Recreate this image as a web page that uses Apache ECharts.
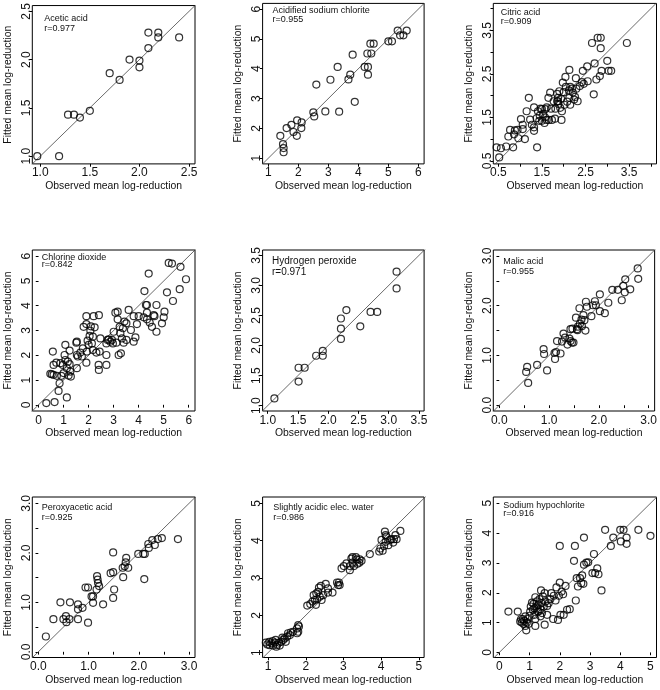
<!DOCTYPE html>
<html><head><meta charset="utf-8">
<script src="https://cdn.jsdelivr.net/npm/echarts@6/dist/echarts.min.js"></script>
<style>html,body{margin:0;padding:0;background:#fff}#c{width:660px;height:690px}</style>
</head><body><div id="c"></div>
<script>
// ---------- Data (observed vs fitted mean log-reduction) ----------
const aceticObs = [0.97,1.19,1.28,1.34,1.40,1.50,1.70,1.80,1.90,2.00,2.00,2.09,2.09,2.19,2.19,2.40];
const aceticFit = [1.00,1.00,1.43,1.43,1.40,1.47,1.86,1.79,2.00,1.99,1.92,2.12,2.28,2.28,2.23,2.23];
const aceticTicks = [1.0,1.5,2.0,2.5];
const aceticTickLabels = ['1.0','1.5','2.0','2.5'];

const chloriteObs = [1.40,1.49,1.51,1.51,1.61,1.77,1.84,1.96,1.95,2.11,2.10,2.50,2.53,2.60,2.90,3.07,3.31,3.36,3.67,3.73,3.81,3.88,4.21,4.32,4.32,4.30,4.43,4.40,4.51,5.00,5.12,5.31,5.39,5.50,5.61];
const chloriteFit = [1.75,1.47,1.34,1.20,2.01,2.12,1.88,2.27,1.75,2.20,2.01,2.54,2.40,3.47,2.57,3.63,4.06,2.56,3.64,3.80,4.47,2.89,4.06,4.06,3.80,4.51,4.51,4.84,4.84,4.92,4.92,5.28,5.12,5.12,5.28];
const chloriteTicks = [1,2,3,4,5,6];
const chloriteTickLabels = ['1','2','3','4','5','6'];

const citricObs = [0.46,0.56,0.52,0.68,0.73,0.77,0.86,0.84,0.88,0.96,0.94,1.02,1.06,1.06,1.11,1.15,1.20,1.23,1.27,1.32,1.32,1.32,1.38,1.39,1.41,1.44,1.45,1.47,1.50,1.50,1.53,1.56,1.57,1.58,1.61,1.61,1.65,1.66,1.69,1.73,1.71,1.77,1.81,1.80,1.85,1.85,1.87,1.87,1.90,1.88,1.92,1.94,1.95,1.96,2.00,1.98,2.02,2.05,2.08,2.12,2.13,2.15,2.04,2.13,2.15,2.19,2.21,2.24,2.26,2.28,2.29,2.32,2.37,2.42,2.44,2.46,2.54,2.55,2.65,2.69,2.71,2.75,2.78,2.85,2.85,2.83,2.87,3.00,3.03,3.09,3.45];
const citricFit = [0.81,0.79,0.58,0.83,1.06,1.21,1.11,0.81,1.20,1.02,1.21,1.46,1.33,1.23,1.00,1.64,1.95,1.45,1.33,1.27,1.19,1.73,1.48,0.81,1.64,1.42,1.54,1.70,1.42,1.69,1.58,1.37,1.50,1.69,1.44,1.73,1.95,1.44,2.07,1.44,1.70,1.87,1.70,1.47,1.87,2.04,1.95,1.87,2.10,1.81,1.72,1.93,1.44,1.64,2.08,2.30,1.79,2.20,1.86,2.12,1.95,1.79,2.43,2.59,2.20,2.16,2.07,1.91,1.97,2.40,2.16,1.87,2.22,2.31,2.57,2.27,2.67,2.33,3.21,2.03,2.74,2.37,3.33,3.33,3.09,2.45,2.57,2.80,2.57,2.57,3.21];
const citricTicks = [0.5,1.0,1.5,2.0,2.5,3.0,3.5,4.0];
const citricTickLabels = ['0.5','1.5','2.5','3.5'];

const dioxideObs = [0.31,0.64,0.53,0.47,0.60,0.57,0.60,0.71,0.73,0.80,0.84,0.87,0.91,0.97,1.00,1.04,1.07,1.07,1.13,1.13,1.17,1.20,1.24,1.24,1.27,1.29,1.51,1.53,1.53,1.57,1.67,1.73,1.77,1.80,1.91,1.91,1.91,1.93,1.96,2.00,2.04,2.07,2.09,2.13,2.17,2.17,2.24,2.20,2.31,2.41,2.40,2.41,2.44,2.71,2.71,2.71,2.76,2.87,2.93,2.97,3.00,3.07,3.16,3.16,3.11,3.20,3.24,3.27,3.29,3.33,3.37,3.40,3.43,3.51,3.60,3.51,3.69,3.80,3.80,3.87,3.93,4.00,4.23,4.20,4.29,4.33,4.33,4.33,4.40,4.44,4.53,4.60,4.71,4.71,4.93,5.00,5.03,5.13,5.20,5.33,5.37,5.64,5.67,5.89,1.53,2.47,2.80,4.63];
const dioxideFit = [0.07,0.11,1.23,1.25,1.21,2.15,1.61,1.70,1.17,0.56,0.87,1.68,1.17,1.61,1.28,2.01,2.42,1.81,0.30,1.48,1.74,1.18,1.64,2.19,1.34,1.14,2.51,2.01,1.48,1.95,2.11,1.95,2.28,3.15,3.26,3.58,1.70,2.15,2.59,2.42,2.78,2.99,3.17,2.48,2.21,2.75,3.13,3.58,2.11,3.62,1.61,1.41,2.15,1.61,2.01,2.48,2.62,2.55,2.62,2.48,2.95,3.72,3.76,3.45,2.51,2.01,3.15,2.89,2.08,2.68,3.09,2.51,3.36,3.29,3.83,2.62,3.02,2.55,3.58,2.72,3.26,3.58,4.59,3.53,4.03,3.72,3.45,4.03,5.30,3.32,3.15,3.62,2.95,4.03,3.29,3.53,3.76,4.54,5.73,5.70,4.19,4.67,5.57,5.07,2.55,2.68,2.64,3.58];
const dioxideTicks = [0,1,2,3,4,5,6];
const dioxideTickLabels = ['0','1','2','3','4','5','6'];

const peroxideObs = [1.11,1.51,1.61,1.51,1.80,1.91,1.91,2.21,2.21,2.21,2.30,2.53,2.70,2.81,3.13,3.13];
const peroxideFit = [1.12,1.63,1.63,1.40,1.83,1.83,1.91,2.11,2.28,2.45,2.59,2.32,2.56,2.56,2.95,3.23];
const peroxideTicks = [1.0,1.5,2.0,2.5,3.0,3.5];
const peroxideTickLabels = ['1.0','1.5','2.0','2.5','3.0','3.5'];

const malicObs = [0.56,0.54,0.58,0.76,0.89,0.90,0.96,1.11,1.12,1.14,1.16,1.23,1.26,1.29,1.32,1.37,1.41,1.43,1.46,1.49,1.43,1.47,1.54,1.56,1.58,1.61,1.62,1.65,1.66,1.69,1.71,1.73,1.74,1.76,1.85,1.88,1.92,1.94,2.02,2.02,2.12,2.19,2.27,2.38,2.46,2.49,2.52,2.53,2.63,2.78,2.79,1.57];
const malicFit = [0.77,0.67,0.45,0.81,1.13,1.03,0.70,1.05,0.93,1.07,1.29,1.04,1.28,1.44,1.36,1.22,1.34,1.29,1.26,1.26,1.53,1.54,1.76,1.53,1.58,1.95,1.64,1.72,1.59,1.81,1.71,1.50,2.08,1.98,1.79,2.01,2.09,2.01,1.89,2.23,1.85,2.06,2.32,2.32,2.11,2.40,2.27,2.53,2.33,2.75,2.54,1.51];
const malicTicks = [0,0.5,1.0,1.5,2.0,2.5,3.0];
const malicTickLabels = ['0.0','1.0','2.0','3.0'];

const peraceticObs = [0.15,0.30,0.44,0.50,0.55,0.56,0.62,0.63,0.79,0.79,0.79,0.88,0.94,0.99,0.99,1.06,1.09,1.09,1.16,1.17,1.18,1.19,1.21,1.29,1.44,1.49,1.49,1.49,1.51,1.68,1.69,1.72,1.74,1.75,1.79,1.99,2.09,2.12,2.11,2.19,2.20,2.27,2.32,2.38,2.46,2.78];
const peraceticFit = [0.31,0.66,1.00,0.66,0.72,0.60,0.66,1.00,0.66,0.96,0.86,0.89,1.30,1.30,0.59,1.12,1.12,0.99,1.26,1.53,1.46,1.39,1.33,0.96,1.59,1.61,2.01,1.09,1.26,1.70,1.51,1.73,1.81,1.90,1.70,1.98,1.98,1.98,1.47,2.18,2.10,2.26,2.16,2.28,2.30,2.28];
const peraceticTicks = [0,0.5,1.0,1.5,2.0,2.5,3.0];
const peraceticTickLabels = ['0.0','1.0','2.0','3.0'];

const saewObs = [0.94,0.98,1.03,1.04,1.09,1.13,1.18,1.20,1.24,1.29,1.31,1.35,1.40,1.44,1.47,1.51,1.53,1.58,1.60,1.66,1.77,1.80,1.80,1.82,1.77,1.22,1.12,1.38,
  2.04,2.12,2.18,2.21,2.24,2.27,2.28,2.30,2.33,2.35,2.37,2.40,2.42,2.46,2.53,2.59,2.59,2.71,2.83,2.86,2.90,2.88,
  2.95,3.01,3.08,3.17,3.17,3.21,3.24,3.28,3.33,3.35,3.37,3.42,3.43,3.48,3.24,3.70,
  3.95,3.98,4.01,4.04,4.08,4.10,4.12,4.12,4.14,4.19,4.23,4.27,4.32,4.34,4.38,4.41,4.51];
const saewFit = [1.27,1.22,1.29,1.20,1.25,1.19,1.27,1.34,1.21,1.27,1.19,1.29,1.34,1.38,1.29,1.43,1.52,1.47,1.54,1.56,1.65,1.74,1.56,1.70,1.52,1.16,1.31,1.40,
  2.26,2.30,2.37,2.54,2.41,2.28,2.59,2.43,2.63,2.74,2.50,2.79,2.41,2.54,2.84,2.72,2.61,2.61,2.88,2.81,2.81,2.88,
  3.26,3.32,3.39,3.32,3.21,3.52,3.41,3.32,3.56,3.50,3.38,3.41,3.50,3.46,3.56,3.64,
  3.71,3.79,4.02,3.73,3.86,4.24,4.15,3.97,4.11,3.88,4.02,4.04,3.95,4.04,4.15,4.04,4.26];
const saewTicks = [1,2,3,4,5];
const saewTickLabels = ['1','2','3','4','5'];

const hypoObs = [0.30,0.61,0.72,0.74,0.78,0.80,0.82,0.86,0.86,0.89,0.91,0.93,0.97,1.00,1.04,1.08,1.11,1.13,1.16,1.19,1.19,1.22,1.24,1.27,1.30,1.33,1.36,1.38,1.39,1.41,1.44,1.47,1.50,1.52,1.50,1.58,1.63,1.69,1.72,1.78,1.80,1.86,1.89,1.94,1.97,2.00,2.00,2.02,2.06,2.11,2.13,2.19,2.24,2.33,2.47,2.50,2.53,2.56,2.60,2.67,2.71,2.74,2.78,2.80,2.80,2.88,2.94,3.08,3.13,3.17,3.24,3.28,3.38,3.50,3.69,3.77,4.00,4.02,4.11,4.21,4.21,4.60,5.00,1.02,1.16,1.30,0.69,1.58,1.36,1.19];
const hypoFit = [1.37,1.37,1.12,1.00,1.12,0.96,1.06,0.89,1.21,0.74,1.00,1.12,0.96,1.23,1.54,1.67,1.43,1.63,1.26,1.85,0.89,1.54,1.71,1.37,1.60,1.79,1.45,2.08,1.65,1.32,1.88,1.54,1.99,1.71,0.93,1.26,1.65,1.79,1.99,1.12,1.90,1.74,2.18,1.09,1.90,3.57,2.34,1.26,2.04,1.95,1.26,2.23,1.43,1.45,3.07,3.57,1.74,2.49,2.21,2.49,2.32,2.58,2.30,3.85,2.94,3.01,3.02,2.66,3.30,2.66,2.82,2.62,2.08,4.11,3.57,3.85,4.11,3.72,4.11,3.85,3.64,4.11,3.91,1.37,1.48,1.37,1.04,1.56,1.21,1.12];
const hypoTicks = [0,1,2,3,4,5];
const hypoTickLabels = ['0','1','2','3','4','5'];

const panelNames = ['Acetic acid','Acidified sodium chlorite','Citric acid','Chlorine dioxide','Hydrogen peroxide','Malic acid','Peroxyacetic acid','Slightly acidic elec. water','Sodium hypochlorite'];
const panelR = ['r=0.977','r=0.955','r=0.909','r=0.842','r=0.971','r=0.955','r=0.925','r=0.986','r=0.916'];

// ---------- Panel setup ----------
const panels = [
  {obs:aceticObs, fit:aceticFit, ticks:aceticTicks, labels:aceticTickLabels, xlim:[0.92,2.56], ylim:[0.92,2.56]},
  {obs:chloriteObs, fit:chloriteFit, ticks:chloriteTicks, labels:chloriteTickLabels, xlim:[0.81,6.19], ylim:[0.81,6.19]},
  {obs:citricObs, fit:citricFit, ticks:citricTicks, labels:citricTickLabels, xlim:[0.385,4.13], ylim:[0.43,4.12]},
  {obs:dioxideObs, fit:dioxideFit, ticks:dioxideTicks, labels:dioxideTickLabels, xlim:[-0.25,6.25], ylim:[-0.25,6.25]},
  {obs:peroxideObs, fit:peroxideFit, ticks:peroxideTicks, labels:peroxideTickLabels, xlim:[0.915,3.585], ylim:[0.91,3.59]},
  {obs:malicObs, fit:malicFit, ticks:malicTicks, labels:malicTickLabels, xlim:[-0.12,3.12], ylim:[-0.115,3.12]},
  {obs:peraceticObs, fit:peraceticFit, ticks:peraceticTicks, labels:peraceticTickLabels, xlim:[-0.12,3.12], ylim:[-0.115,3.13]},
  {obs:saewObs, fit:saewFit, ticks:saewTicks, labels:saewTickLabels, xlim:[0.855,5.14], ylim:[0.87,5.17]},
  {obs:hypoObs, fit:hypoFit, ticks:hypoTicks, labels:hypoTickLabels, xlim:[-0.2,5.2], ylim:[-0.17,5.21]}
];

const colLeft = [32.3, 262.6, 493.3];
const colWidth = [162.7, 161.5, 163.2];
const rowTop = [3.4, 250, 497];
const rowHeight = [160.5, 161, 160.5];
// label offsets from plot box: [dx, dy, lineHeight, fontSize]
const labelPos = [[12,10,10,9],[10,3.3,8.6,9],[7.4,5,9,9],[9.4,3.3,7.6,9],[9.4,5.8,11,10],[10,6,10.5,9],[9.4,6,10,9],[10.6,5,10.5,9],[10,3.7,8.8,9]];

const FONT = '"Liberation Sans", Arial, Helvetica, sans-serif';
const grid = [], xAxis = [], yAxis = [], series = [], title = [];

panels.forEach((p, i) => {
  const c = i % 3, r = Math.floor(i / 3);
  const left = colLeft[c], top = rowTop[r];
  grid.push({left: left, top: top, width: colWidth[c], height: rowHeight[r], show: true,
    borderColor: '#000', borderWidth: 1, backgroundColor: 'transparent', containLabel: false});
  const labelVals = p.labels.map(Number);
  const fmt = v => { const k = labelVals.findIndex(u => Math.abs(u - v) < 1e-9); return k >= 0 ? p.labels[k] : ''; };
  const common = {
    gridIndex: i, type: 'value', splitLine: {show: false},
    axisLine: {show: false},
    axisTick: {show: true, customValues: p.ticks, length: 2.8, lineStyle: {color: '#000', width: 1}},
    nameLocation: 'middle',
    nameTextStyle: {fontSize: 10.4, color: '#111', fontFamily: FONT}
  };
  xAxis.push(Object.assign({}, common, {
    min: p.xlim[0], max: p.xlim[1],
    axisLabel: {customValues: labelVals, formatter: fmt, margin: 3.2, fontSize: 12, color: '#111', fontFamily: FONT},
    name: 'Observed mean log-reduction', nameGap: 17.5
  }));
  yAxis.push(Object.assign({}, common, {
    min: p.ylim[0], max: p.ylim[1],
    axisLabel: {customValues: labelVals, formatter: fmt, margin: 0, rotate: 90, fontSize: 12, color: '#111', fontFamily: FONT},
    name: 'Fitted mean log-reduction', nameGap: 19.5
  }));
  const lo = Math.max(p.xlim[0], p.ylim[0]) - 1, hi = Math.min(p.xlim[1], p.ylim[1]) + 1;
  series.push({type: 'line', xAxisIndex: i, yAxisIndex: i, data: [[lo, lo], [hi, hi]],
    symbol: 'none', silent: true, clip: true, lineStyle: {color: '#444', width: 0.8}, z: 1});
  series.push({type: 'scatter', xAxisIndex: i, yAxisIndex: i, symbol: 'circle', symbolSize: 7,
    data: p.obs.map((x, k) => [x, p.fit[k]]), silent: true, clip: false,
    itemStyle: {color: 'rgba(0,0,0,0)', borderColor: '#000', borderWidth: 1.2}, z: 2});
  const lp = labelPos[i];
  title.push({text: panelNames[i] + '\n' + panelR[i], left: left + lp[0], top: top + lp[1], padding: 0,
    textStyle: {fontSize: lp[3], lineHeight: lp[2], fontWeight: 'normal', color: '#111', fontFamily: FONT}});
});

const chart = echarts.init(document.getElementById('c'), null, {renderer: 'canvas'});
chart.setOption({animation: false, backgroundColor: '#fff', title, grid, xAxis, yAxis, series});
</script>
</body></html>
